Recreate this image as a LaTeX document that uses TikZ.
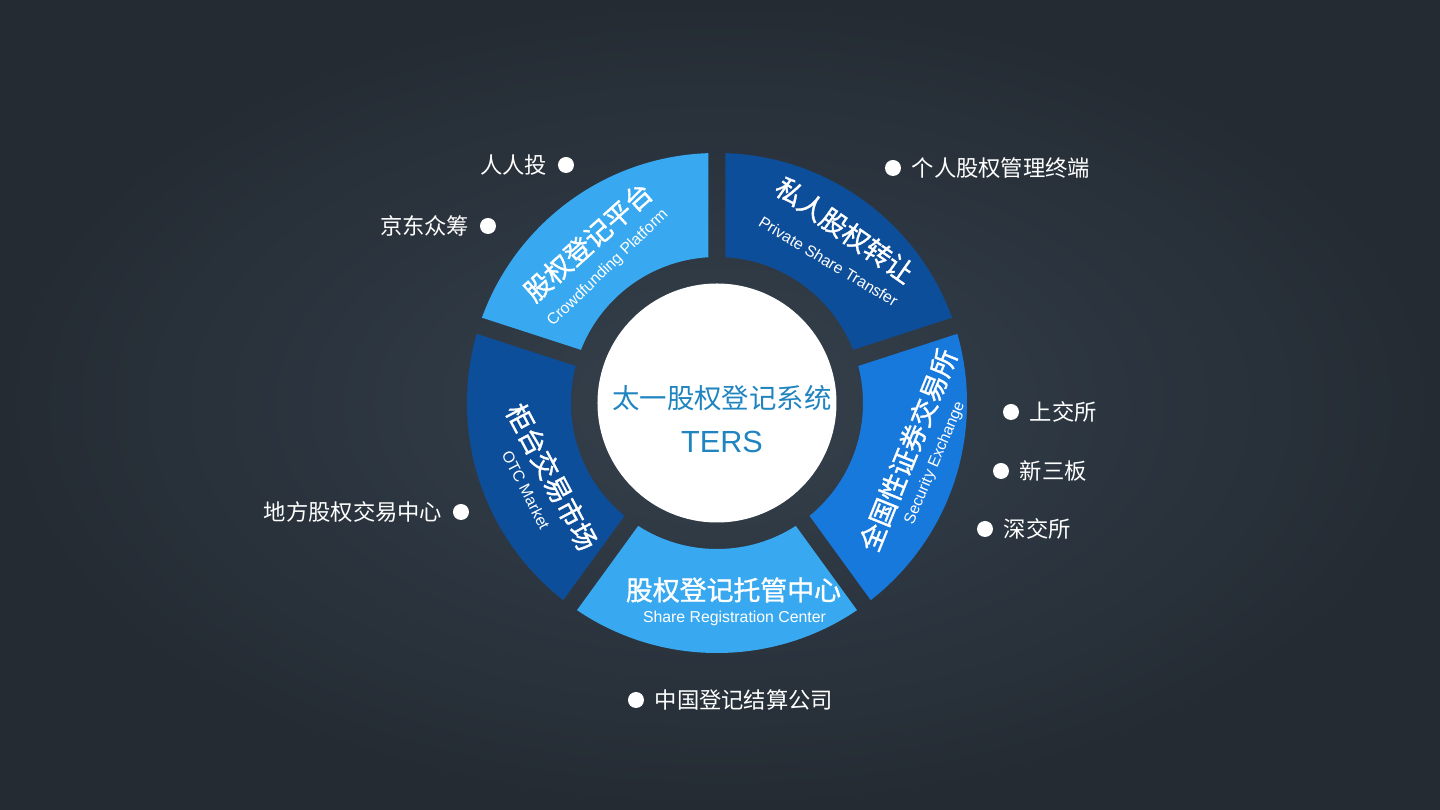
\documentclass[tikz,border=0pt]{standalone}
\usepackage{fontspec}
\setmainfont{Liberation Sans}
\newfontfamily\cjk{Noto Sans CJK SC}
\newfontfamily\cjkmid[FakeBold=1.2]{Noto Sans CJK SC}
\usetikzlibrary{calc,positioning}

\definecolor{bgin}{HTML}{35414D}
\definecolor{bgout}{HTML}{242B33}
\definecolor{segLight}{HTML}{38A9F0}
\definecolor{segDark}{HTML}{0D4E9B}
\definecolor{segMid}{HTML}{1779DC}
\definecolor{hubText}{HTML}{1F84C0}

\tikzset{
  segcn/.style={text=white, font=\cjkmid\fontsize{15.3}{18}\selectfont, inner sep=0pt},
  segen/.style={text=white, font=\fontsize{9}{11}\selectfont, inner sep=0pt},
  bulletdot/.style={circle, fill=white, minimum size=0.32cm, inner sep=0pt},
  tag/.style={text=white, font=\cjk\fontsize{12.7}{15}\selectfont, inner sep=0pt}
}

\begin{document}
\begin{tikzpicture}
    % Background
    \useasboundingbox (-14.34,-8.14) rectangle (14.46,8.06);
    \shade[inner color=bgin, outer color=bgout] (-14.34,-8.14) rectangle (14.46,8.06);

    % Ring segments
    \foreach \s/\col in {90/segLight,18/segDark,-54/segMid,-126/segLight,162/segDark} {
        \begin{scope}
            \clip ({\s+36}:{0.17/sin(36)}) -- ($(\s:7)+({\s+90}:0.17)$) -- ($({\s+72}:7)+({\s-18}:0.17)$) -- cycle;
            \fill[\col, even odd rule] (0,0) circle (5) (0,0) circle (2.92);
        \end{scope}
    }

    % Hub
    \node[circle, fill=white, minimum size=4.78cm, inner sep=0pt] (hub) at (0,0) {};
    \node[text=hubText, font=\cjk\fontsize{15.6}{18}\selectfont, inner sep=0pt] (title) at (0.1,0.1) {太一股权登记系统};
    \node[text=hubText, font=\fontsize{17.4}{20}\selectfont, inner sep=0pt] (ters) at (0.1,-0.78) {TERS};

    % Segment labels
    \node[segcn, rotate=42] (platcn) at (-2.58,3.22) {股权登记平台};
    \node[segen, rotate=44] (platen) at (-2.18,2.70) {Crowdfunding Platform};
    \node[segcn, rotate=-35] (privcn) at (2.56,3.46) {私人股权转让};
    \node[segen, rotate=-31] (priven) at (2.23,2.83) {Private Share Transfer};
    \node[segcn, rotate=68] (exchcn) at (3.82,-0.94) {全国性证券交易所};
    \node[segen, rotate=67] (exchen) at (4.36,-1.20) {Security Exchange};
    \node[segcn] (centcn) at (0.33,-3.74) {股权登记托管中心};
    \node[segen] (centen) at (0.35,-4.30) {Share Registration Center};
    \node[segcn, rotate=-62] (otccn) at (-3.30,-1.48) {柜台交易市场};
    \node[segen, rotate=-63] (otcen) at (-3.82,-1.74) {OTC Market};

    % Outer items
    \node[bulletdot] (d1) at (-3.02,4.76) {};
    \node[tag, left=0.2cm of d1] (t1) {人人投};
    \node[bulletdot] (d2) at (-4.58,3.54) {};
    \node[tag, left=0.2cm of d2] (t2) {京东众筹};
    \node[bulletdot] (d3) at (3.52,4.70) {};
    \node[tag, right=0.2cm of d3] (t3) {个人股权管理终端};
    \node[bulletdot] (d4) at (5.88,-0.18) {};
    \node[tag, right=0.2cm of d4] (t4) {上交所};
    \node[bulletdot] (d5) at (5.68,-1.36) {};
    \node[tag, right=0.2cm of d5] (t5) {新三板};
    \node[bulletdot] (d6) at (5.36,-2.52) {};
    \node[tag, right=0.2cm of d6] (t6) {深交所};
    \node[bulletdot] (d7) at (-5.12,-2.18) {};
    \node[tag, left=0.2cm of d7] (t7) {地方股权交易中心};
    \node[bulletdot] (d8) at (-1.62,-5.94) {};
    \node[tag, right=0.2cm of d8] (t8) {中国登记结算公司};
\end{tikzpicture}
\end{document}
